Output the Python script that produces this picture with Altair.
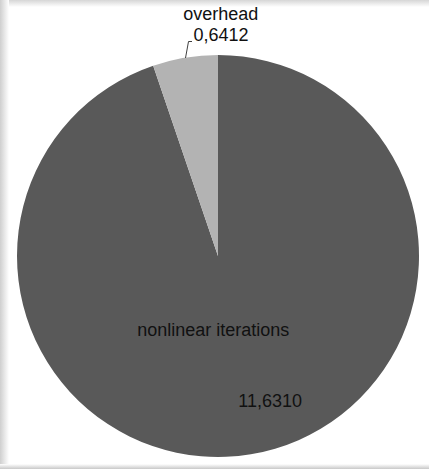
import altair as alt
import pandas as pd

categories = ["nonlinear iterations", "overhead"]
values = [11.6310, 0.6412]
value_labels = ["11,6310", "0,6412"]
order = [0, 1]
colors = ["#595959", "#b3b3b3"]

df = pd.DataFrame({"category": categories, "value": values,
                   "vlabel": value_labels, "ord": order})

W, H = 429, 469
CX, CY = 218, 256
FONT = "Liberation Sans"
FS = 18

base = alt.Chart(df)

pie = base.mark_arc(outerRadius=201).encode(
    theta=alt.Theta("value:Q", stack=True),
    color=alt.Color("category:N", scale=alt.Scale(domain=categories, range=colors), legend=None),
    order=alt.Order("ord:Q"),
    x=alt.value(CX), y=alt.value(CY),
)

def label_layer(cat, field, radius, dx, dy):
    return base.transform_window(
        cum="sum(value)", sort=[alt.SortField("ord")], frame=[None, 0]
    ).transform_calculate(
        mid="datum.cum - datum.value / 2"
    ).transform_filter(
        alt.datum.category == cat
    ).mark_text(font=FONT, fontSize=FS, color="#111111", dx=dx, dy=dy,
                align="center", baseline="middle").encode(
        theta=alt.Theta("mid:Q", stack=None),
        radius=alt.value(radius),
        text=alt.Text(f"{field}:N"),
        x=alt.value(CX), y=alt.value(CY),
    )

t1 = label_layer("nonlinear iterations", "category", 75, -17, 1)
t2 = label_layer("nonlinear iterations", "vlabel", 154, 27, -6)
t3 = label_layer("overhead", "category", 240, 42, -4)
t4 = label_layer("overhead", "vlabel", 220, 39, -3)

leader = alt.Chart(alt.Data(values=[{}])).mark_rule(color="#404040", strokeWidth=1)
lead1 = leader.encode(x=alt.value(185.5), y=alt.value(58), x2=alt.value(188.5), y2=alt.value(41.5))
lead2 = leader.encode(x=alt.value(188.5), y=alt.value(41.5), x2=alt.value(192), y2=alt.value(41.5))

def grad(x1, y1, x2, y2, c):
    return alt.Gradient(gradient="linear", x1=x1, y1=y1, x2=x2, y2=y2,
                        stops=[alt.GradientStop(color=c, offset=0),
                               alt.GradientStop(color="#ffffff", offset=1)])

sh = alt.Chart(alt.Data(values=[{}]))
left = sh.mark_rect(fill=grad(0, 0, 1, 0, "#cfcfcf")).encode(
    x=alt.value(0), x2=alt.value(9), y=alt.value(0), y2=alt.value(H))
top = sh.mark_rect(fill=grad(0, 0, 0, 1, "#d6d6d6")).encode(
    x=alt.value(0), x2=alt.value(W), y=alt.value(0), y2=alt.value(7))
bottom = sh.mark_rect(fill=grad(0, 1, 0, 0, "#c8c8c8")).encode(
    x=alt.value(0), x2=alt.value(W), y=alt.value(464), y2=alt.value(H))

chart = alt.layer(top, left, bottom, pie, lead1, lead2, t1, t2, t3, t4).properties(
    width=W, height=H, padding=0, autosize=alt.AutoSizeParams(type="none"),
    background="white"
).configure_view(stroke=None)

chart.save("out.html", embed_options={"renderer": "svg", "actions": False})
